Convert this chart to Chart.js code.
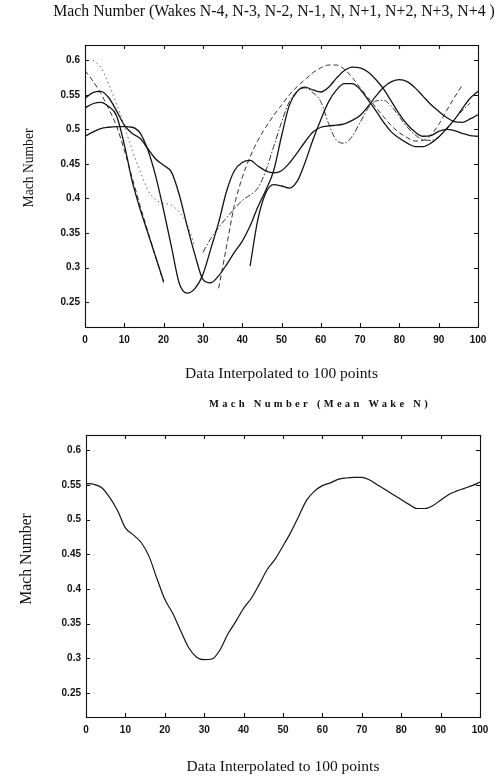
<!DOCTYPE html>
<html>
<head>
<meta charset="utf-8">
<script src="https://cdn.jsdelivr.net/npm/chart.js@4.4.1/dist/chart.umd.min.js"></script>
<style>
  body { margin: 0; background: #fff; }
  canvas { display: block; }
</style>
</head>
<body>
<canvas id="wakesChart" width="501" height="390"></canvas>
<canvas id="meanChart" width="501" height="390"></canvas>
<script>
// x positions (data interpolated to 100 points, read every 2)
const xPoints = [0, 2, 4, 6, 8, 10, 12, 14, 16, 18, 20, 22, 24, 26, 28, 30, 32, 34, 36, 38, 40,
  42, 44, 46, 48, 50, 52, 54, 56, 58, 60, 62, 64, 66, 68, 70, 72, 74, 76, 78, 80,
  82, 84, 86, 88, 90, 92, 94, 96, 98, 100];

const xTicks = [0, 10, 20, 30, 40, 50, 60, 70, 80, 90, 100];
const yTicks = [0.25, 0.3, 0.35, 0.4, 0.45, 0.5, 0.55, 0.6];

// top plot: individual wakes (null = no data)
const wakeSolid1 = [0.545, 0.553, 0.555, 0.546, 0.527, 0.506, 0.494, 0.487, 0.472, 0.457, 0.448,
  0.438, 0.405, 0.36, 0.318, 0.283, 0.278, 0.288, 0.304, 0.322, 0.338,
  0.36, 0.388, 0.412, 0.44, 0.49, 0.535, 0.555, 0.561, 0.557, 0.554,
  0.561, 0.574, 0.585, 0.59, 0.589, 0.583, 0.572, 0.558, 0.54, 0.522,
  0.507, 0.496, 0.49, 0.491, 0.497, 0.5, 0.498, 0.494, 0.491, 0.49];
const wakeSolid2 = [0.531, 0.537, 0.539, 0.533, 0.52, 0.478, 0.425, 0.385, 0.35, 0.315, 0.28,
  null, null, null, null, null, null, null, null, null, null,
  0.302, 0.37, 0.408, 0.42, 0.418, 0.415, 0.425, 0.452, 0.485, 0.514,
  0.54, 0.557, 0.566, 0.566, 0.558, 0.543, 0.527, 0.51, 0.496, 0.487,
  0.48, 0.475, 0.475, 0.48, 0.489, 0.501, 0.514, 0.53, 0.545, 0.555];
const wakeSolid3 = [0.49, 0.496, 0.501, 0.503, 0.504, 0.504, 0.503, 0.495, 0.47, 0.432, 0.383,
  0.33, 0.277, 0.263, 0.27, 0.29, 0.327, 0.365, 0.41, 0.44, 0.452,
  0.455, 0.447, 0.44, 0.437, 0.44, 0.451, 0.466, 0.482, 0.496, 0.503,
  0.505, 0.506, 0.508, 0.513, 0.52, 0.533, 0.548, 0.561, 0.569, 0.572,
  0.569, 0.56, 0.548, 0.536, 0.526, 0.517, 0.511, 0.51, 0.515, 0.521];
const wakeDashed = [0.585, 0.57, 0.552, 0.53, 0.505, 0.47, 0.43, 0.39, 0.352, 0.315, 0.278,
  null, null, null, null, null, null, 0.27, 0.33, 0.39, 0.43,
  0.46, 0.484, 0.503, 0.52, 0.535, 0.55, 0.562, 0.572, 0.582, 0.589,
  0.593, 0.593, 0.587, 0.575, 0.56, 0.546, 0.532, 0.518, 0.505, 0.495,
  0.488, 0.483, 0.484, 0.492, 0.507, 0.527, 0.546, 0.564, null, null];
const wakeDotted = [null, 0.6, 0.59, 0.566, 0.537, 0.505, 0.47, 0.44, 0.412, 0.398, 0.393,
  0.39, 0.38, 0.362, 0.33, null, null, null, null, null, null,
  null, null, null, null, null, null, null, null, null, null,
  null, null, null, null, null, null, null, null, null, null,
  null, null, null, null, null, null, null, null, null, null];
const wakeDashDot = [null, null, null, null, null, null, null, null, null, null, null,
  null, null, null, null, 0.322, 0.342, 0.358, 0.372, 0.385, 0.397,
  0.405, 0.415, 0.44, 0.475, 0.51, 0.54, 0.555, 0.56, 0.553, 0.54,
  0.508, 0.484, 0.48, 0.49, 0.51, 0.53, 0.541, 0.542, 0.533, 0.518,
  0.503, 0.492, 0.485, 0.484, 0.489, 0.5, 0.514, 0.527, 0.538, null];

// bottom plot: mean wake N
const meanWake = [0.552, 0.551, 0.546, 0.532, 0.513, 0.488, 0.478, 0.467, 0.447, 0.415, 0.385,
  0.365, 0.34, 0.316, 0.302, 0.298, 0.299, 0.312, 0.335, 0.353, 0.372,
  0.387, 0.407, 0.428, 0.443, 0.462, 0.482, 0.505, 0.528, 0.541, 0.549,
  0.553, 0.558, 0.56, 0.561, 0.561, 0.557, 0.55, 0.543, 0.536, 0.529,
  0.522, 0.516, 0.516, 0.52, 0.528, 0.536, 0.541, 0.545, 0.549, 0.554];

const topTitle = 'Mach Number (Wakes N-4, N-3, N-2, N-1, N, N+1, N+2, N+3, N+4 )';
const bottomTitle = 'Mach Number (Mean Wake N)';
const yTitle = 'Mach Number';
const xTitle = 'Data Interpolated to 100 points';

const SERIF = "'Liberation Serif', 'Times New Roman', serif";
Chart.defaults.font.family = "'Liberation Sans', Arial, sans-serif";
Chart.defaults.font.size = 10;
Chart.defaults.font.weight = 'bold';
Chart.defaults.color = '#111';

// box with inward ticks on all four sides, plus free-placed texts
const framePlugin = {
  id: 'frame',
  afterDatasetsDraw(chart, args, opts) {
    const { ctx, chartArea: a, scales: { x, y } } = chart;
    const t = opts.tick;
    ctx.save();
    ctx.strokeStyle = '#111';
    ctx.lineWidth = 1.1;
    ctx.strokeRect(a.left + 0.5, a.top + 0.5, a.right - a.left, a.bottom - a.top);
    ctx.beginPath();
    x.ticks.forEach(tk => {
      const px = Math.round(x.getPixelForValue(tk.value)) + 0.5;
      ctx.moveTo(px, a.bottom); ctx.lineTo(px, a.bottom - t);
      ctx.moveTo(px, a.top); ctx.lineTo(px, a.top + t);
    });
    y.ticks.forEach(tk => {
      const py = Math.round(y.getPixelForValue(tk.value)) + 0.5;
      ctx.moveTo(a.left, py); ctx.lineTo(a.left + t, py);
      ctx.moveTo(a.right, py); ctx.lineTo(a.right - t, py);
    });
    ctx.stroke();

    ctx.fillStyle = '#111';
    opts.texts.forEach(txt => {
      ctx.save();
      ctx.font = txt.font;
      ctx.letterSpacing = txt.spacing || '0px';
      ctx.textAlign = 'center';
      ctx.textBaseline = 'alphabetic';
      ctx.translate(txt.x, txt.y);
      if (txt.rotate) ctx.rotate(txt.rotate);
      ctx.fillText(txt.text, 0, 0);
      ctx.restore();
    });
    ctx.restore();
  }
};

function line(data, dash, color, width) {
  return {
    data: data,
    borderColor: color,
    borderWidth: width,
    borderDash: dash,
    pointRadius: 0,
    fill: false,
    spanGaps: false,
    cubicInterpolationMode: 'monotone'
  };
}

function makeChart(id, datasets, opt) {
  return new Chart(document.getElementById(id), {
    type: 'line',
    data: { labels: xPoints, datasets: datasets },
    options: {
      responsive: false,
      animation: false,
      devicePixelRatio: 1,
      layout: { padding: { top: 45, right: opt.right, left: 0, bottom: 0 } },
      plugins: {
        legend: { display: false },
        tooltip: { enabled: false },
        frame: { tick: 4, texts: opt.texts }
      },
      scales: {
        x: {
          type: 'linear',
          min: 0, max: 100,
          grid: { display: false, drawTicks: false },
          border: { display: false },
          afterBuildTicks: s => { s.ticks = xTicks.map(v => ({ value: v })); },
          afterFit: s => { s.height = 63; },
          ticks: { padding: 7, maxRotation: 0, callback: v => String(v) },
          title: {
            display: true, text: xTitle,
            font: { family: SERIF, size: 15.5, weight: 'normal' },
            padding: { top: 0, bottom: opt.xTitleBottom }
          }
        },
        y: {
          min: opt.yMin, max: 0.622,
          grid: { display: false, drawTicks: false },
          border: { display: false },
          afterBuildTicks: s => { s.ticks = yTicks.map(v => ({ value: v })); },
          afterFit: s => { s.width = opt.left; },
          ticks: { padding: 5, callback: v => String(parseFloat(v.toFixed(2))) }
        }
      }
    },
    plugins: [framePlugin]
  });
}

makeChart('wakesChart', [
  line(wakeSolid1, [], '#141414', 1.3),
  line(wakeSolid2, [], '#141414', 1.3),
  line(wakeSolid3, [], '#141414', 1.3),
  line(wakeDashed, [5, 3], '#333', 1),
  line(wakeDotted, [1.5, 3], '#666', 1),
  line(wakeDashDot, [6, 2, 1.5, 2], '#333', 1)
], {
  left: 85, right: 23, yMin: 0.214, xTitleBottom: 7,
  texts: [
    { text: topTitle, x: 274, y: 16, font: '15.8px ' + SERIF },
    { text: yTitle, x: 33, y: 168, font: '13.6px ' + SERIF, rotate: -Math.PI / 2 }
  ]
});

makeChart('meanChart', [
  line(meanWake, [], '#141414', 1.2)
], {
  left: 86, right: 21, yMin: 0.2154, xTitleBottom: 4,
  texts: [
    { text: bottomTitle, x: 320, y: 17, font: 'bold 10.5px ' + SERIF, spacing: '3.3px' },
    { text: yTitle, x: 31, y: 169, font: '15.8px ' + SERIF, rotate: -Math.PI / 2 }
  ]
});
</script>
</body>
</html>
